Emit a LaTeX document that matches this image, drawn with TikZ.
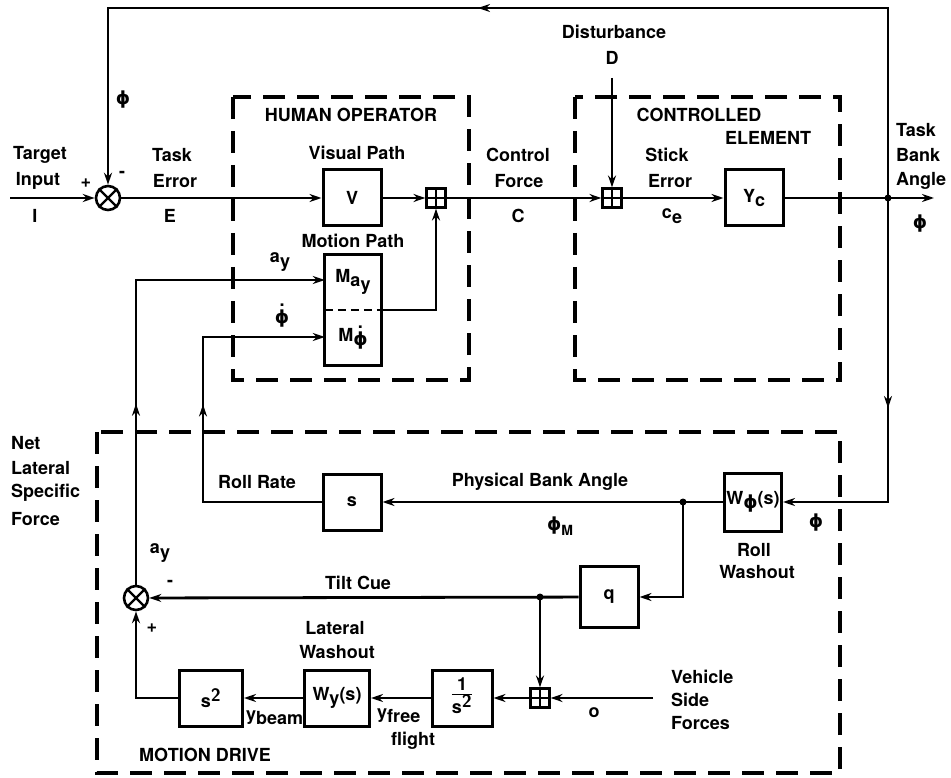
\documentclass[tikz,border=0pt]{standalone}
\usepackage{fontspec}
\setmainfont{TeX Gyre Heros}
\newfontfamily\djv{DejaVu Sans}
\usetikzlibrary{arrows.meta,decorations.markings}
\newcommand\lo[1]{\raisebox{-0.45ex}{#1}}
\newcommand\ph{{\djv ϕ}}
\newcommand\phd{{\setbox0\hbox{\ph}\rlap{\hbox to\wd0{\hss\raisebox{0.95em}{.}\hss}}\box0}}
\begin{document}
\begin{tikzpicture}[x=1pt,y=-1pt,
  font=\fontsize{18}{21}\selectfont\bfseries,
  ln/.style={line width=2.8pt,line join=miter},
  arr/.style={ln,-{Stealth[length=12pt,width=8pt]}},
  midarr/.style={postaction={decorate},decoration={markings,mark=at position #1 with {\arrow{Stealth[length=12pt,width=8pt]}}}},
  blk/.style={draw,line width=3pt,minimum width=58pt,minimum height=56pt,inner sep=0pt},
  pbox/.style={draw,line width=2.2pt,minimum size=19pt,inner sep=0pt},
  sumc/.style={draw,circle,line width=2.6pt,minimum size=24pt,inner sep=0pt},
  grp/.style={line width=4.2pt,dash pattern=on 22pt off 12pt},
  lbl/.style={inner sep=1pt,align=center},
  dot/.style={circle,fill,inner sep=0pt,minimum size=7pt},
]
\useasboundingbox (0,0) rectangle (951,778);

% group boxes
\draw[grp] (233,97) rectangle (469,380);
\draw[grp] (575,97) rectangle (840,380);
\draw[grp] (97,432) rectangle (840,773);

% nodes
\node[sumc] (s1) at (108,198) {};
\draw[line width=2.4pt] (s1.north east)--(s1.south west) (s1.north west)--(s1.south east);
\node[blk] (V) at (352,198) {V};
\node[pbox] (p1) at (436,198) {};
\draw[line width=1.8pt] (p1.north)--(p1.south) (p1.west)--(p1.east);
\node[lbl,minimum width=56pt,minimum height=55.5pt,inner sep=0pt] (Ma) at (353,282) {M\lo{a\lo{y}}};
\node[lbl,minimum width=56pt,minimum height=55.5pt,inner sep=0pt,anchor=north] (Mp) at (Ma.south) {M\lo{\phd}};
\draw[line width=3pt] (Ma.north west) rectangle (Mp.south east);
\draw[line width=2.2pt,dash pattern=on 8pt off 5pt] (Ma.south west)--(Ma.south east);
\node[pbox] (p2) at (612,198) {};
\draw[line width=1.8pt] (p2.north)--(p2.south) (p2.west)--(p2.east);
\node[blk] (Yc) at (754,198) {Y\lo{c}};
\node[blk,minimum width=57pt,minimum height=58pt] (Wphi) at (753,502) {W\lo{\ph}(s)};
\node[blk] (sb) at (352,502) {s};
\node[blk,minimum height=61pt] (g) at (609,597) {q};
\node[sumc] (s2) at (136,598) {};
\draw[line width=2.4pt] (s2.north east)--(s2.south west) (s2.north west)--(s2.south east);
\node[pbox] (p3) at (540,698) {};
\draw[line width=1.8pt] (p3.north)--(p3.south) (p3.west)--(p3.east);
\node[blk,minimum width=60pt] (inv) at (462,698) {\begin{tabular}{@{}c@{}}1\\[-3pt]\hline\rule{0pt}{17pt}s$^{\textsf{\bfseries 2}}$\end{tabular}};
\node[blk,minimum width=65pt] (Wy) at (337,698) {W\lo{y}(s)};
\node[blk,minimum width=63pt] (sq) at (211,698) {s$^{\textsf{\bfseries 2}}$};

% coordinates
\coordinate (in) at (10,198);
\coordinate (dtop) at (612,78);
\coordinate (j1) at (888,198);
\coordinate (out) at (934,198);
\coordinate (tl) at (108,8);
\coordinate (j2) at (683,502);
\coordinate (j3) at (540,597);
\coordinate (veh) at (653,698);
\coordinate (ay) at (136,280);
\coordinate (rr) at (203,337);

% connectors
\draw[arr] (in) -- (s1);
\draw[arr] (s1) -- (V);
\draw[arr] (V) -- (p1);
\draw[arr] (p1) -- (p2);
\draw[arr] (dtop) -- (p2);
\draw[arr] (p2) -- (Yc);
\draw[arr] (Yc) -- (out);
\node[dot] at (j1) {};
\draw[arr,midarr=600pt] (j1) |- (tl) -- (s1);
\draw[arr,midarr=210pt] (j1) |- (Wphi);
\draw[arr] (Wphi) -- (sb);
\node[dot] at (j2) {};
\draw[arr] (j2) |- (g);
\draw[arr,midarr=216pt] (sb) -| (rr) -- (rr -| Mp.west);
\draw[arr] (g) -- (s2);
\node[dot] at (j3) {};
\draw[arr] (j3) -- (p3);
\draw[arr] (veh) -- (p3);
\draw[arr] (p3) -- (inv);
\draw[arr] (inv) -- (Wy);
\draw[arr] (Wy) -- (sq);
\draw[arr] (sq) -| (s2);
\draw[arr,midarr=181pt] (s2) -- (ay) -- (ay -| Ma.west);
\draw[arr] (Ma.south east) -| (p1);

% labels
\node[lbl] at (40,155) {Target};
\node[lbl] at (38,181) {Input};
\node[lbl] at (35,216) {$\mathbf{I}$};
\node[lbl] at (86,183) {+};
\node[lbl] at (122,174) {-};
\node[lbl] at (123,100) {\ph};
\node[lbl] at (172,155) {Task};
\node[lbl] at (175,181) {Error};
\node[lbl] at (170,216) {E};
\node[lbl] at (351,115) {HUMAN OPERATOR};
\node[lbl] at (357,153) {Visual Path};
\node[lbl] at (353,241) {Motion Path};
\node[lbl] at (280,262) {a\lo{y}};
\node[lbl] at (282,316) {\phd};
\node[lbl] at (518,155) {Control};
\node[lbl] at (519,181) {Force};
\node[lbl] at (518,216) {C};
\node[lbl] at (614,32) {Disturbance};
\node[lbl] at (612,58) {D};
\node[lbl] at (699,115) {CONTROLLED};
\node[lbl] at (768,138) {ELEMENT};
\node[lbl] at (667,155) {Stick};
\node[lbl] at (670,181) {Error};
\node[lbl] at (672,216) {c\lo{e}};
\node[lbl,anchor=west] at (895,130) {Task};
\node[lbl,anchor=west] at (895,155) {Bank};
\node[lbl,anchor=west] at (895,181) {Angle};
\node[lbl] at (920,224) {\ph};
\node[lbl,anchor=west] at (10,443) {Net};
\node[lbl,anchor=west] at (10,468) {Lateral};
\node[lbl,anchor=west] at (10,493) {Specific};
\node[lbl,anchor=west] at (10,519) {Force};
\node[lbl] at (257,482) {Roll Rate};
\node[lbl] at (540,482) {Physical Bank Angle};
\node[lbl] at (560,526) {\ph\lo{\fontsize{14}{14}\selectfont M}};
\node[lbl] at (754,550) {Roll};
\node[lbl] at (757,572) {Washout};
\node[lbl] at (816,523) {\ph};
\node[lbl] at (160,553) {a\lo{y}};
\node[lbl] at (170,583) {-};
\node[lbl] at (152,628) {+};
\node[lbl] at (358,583) {Tilt Cue};
\node[lbl] at (335,628) {Lateral};
\node[lbl] at (337,652) {Washout};
\node[lbl,anchor=west] at (245,718) {y\lo{beam}};
\node[lbl,anchor=west] at (376,716) {y\lo{free}};
\node[lbl] at (413,741) {flight};
\node[lbl] at (594,713) {o};
\node[lbl,anchor=west] at (670,677) {Vehicle};
\node[lbl,anchor=west] at (670,700) {Side};
\node[lbl,anchor=west] at (670,723) {Forces};
\node[lbl] at (205,755) {MOTION DRIVE};
\end{tikzpicture}
\end{document}
